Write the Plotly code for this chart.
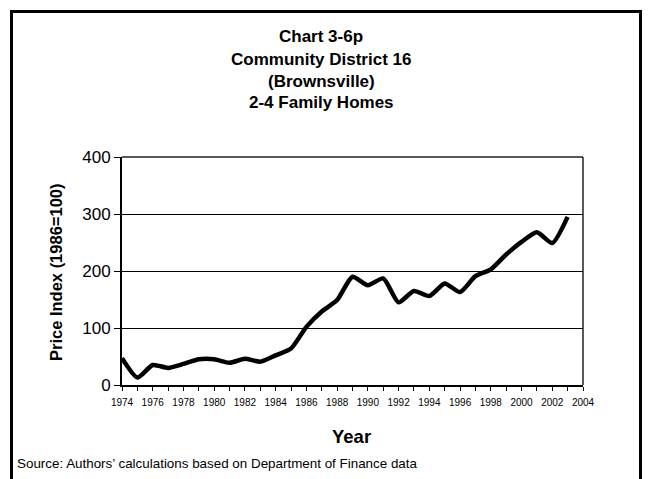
import plotly.graph_objects as go

years = list(range(1974, 2004))
price_index = [47, 13, 35, 30, 37, 45, 45, 39, 46, 41, 52, 64, 102, 129, 149, 190,
               175, 187, 145, 165, 156, 178, 163, 191, 203, 229, 251, 268, 249, 295]

title_lines = ["Chart 3-6p", "Community District 16", "(Brownsville)", "2-4 Family Homes"]
x_title = "Year"
y_title = "Price Index (1986=100)"
source_note = "Source: Authors\u2019 calculations based on Department of Finance data"

W, H = 649, 479
L, R, T, B = 122, 66, 157, 94
pw, ph = W - L - R, H - T - B

def px(x):
    return (x - L) / pw

def py(y):
    return (H - B - y) / ph

FONT = "Liberation Sans, Arial, sans-serif"

fig = go.Figure()
fig.add_trace(go.Scatter(
    x=years, y=price_index, mode="lines",
    line=dict(color="black", width=4.5, shape="spline", smoothing=0.6),
    hoverinfo="skip", showlegend=False,
))

fig.update_layout(
    width=W, height=H,
    margin=dict(l=L, r=R, t=T, b=B),
    paper_bgcolor="white", plot_bgcolor="white",
    font=dict(family=FONT, color="black"),
    showlegend=False,
)

fig.update_xaxes(
    range=[1974, 2004], tickmode="linear", tick0=1974, dtick=2,
    ticks="outside", ticklen=4, tickwidth=1, tickcolor="black",
    minor=dict(dtick=1, ticks="outside", ticklen=4, tickcolor="black", tickwidth=1),
    showline=True, linecolor="black", linewidth=2,
    showgrid=False, zeroline=False, ticklabelstandoff=3,
    tickfont=dict(family="Liberation Sans Narrow, " + FONT, size=10),
)
fig.update_yaxes(
    range=[0, 400], tickmode="linear", tick0=0, dtick=100,
    ticks="outside", ticklen=6, tickwidth=1, tickcolor="black",
    showline=True, linecolor="black", linewidth=2,
    showgrid=True, gridcolor="black", gridwidth=1,
    zeroline=False,
    tickfont=dict(family=FONT, size=17),
)

# plot frame top/right
fig.add_shape(type="line", xref="paper", yref="paper", x0=0, x1=1, y0=1, y1=1,
              line=dict(color="#222", width=1.5))
fig.add_shape(type="line", xref="paper", yref="paper", x0=1, x1=1, y0=0, y1=1,
              line=dict(color="#222", width=1.5))

# outer frame
fig.add_shape(type="rect", xref="paper", yref="paper",
              x0=px(11.5), x1=px(640.5), y0=py(495), y1=py(11.5),
              line=dict(color="black", width=3), fillcolor="rgba(0,0,0,0)", layer="above")

for i, t in enumerate(title_lines):
    fig.add_annotation(text="<b>%s</b>" % t, xref="paper", yref="paper",
                       x=px(321), y=py(37 + 22 * i), showarrow=False,
                       xanchor="center", yanchor="middle",
                       font=dict(family=FONT, size=17, color="black"))

fig.add_annotation(text="<b>%s</b>" % x_title, xref="paper", yref="paper",
                   x=px(351), y=py(436), showarrow=False,
                   xanchor="center", yanchor="middle",
                   font=dict(family=FONT, size=18.5, color="black"))
fig.add_annotation(text="<b>%s</b>" % y_title, xref="paper", yref="paper",
                   x=px(56), y=py(272), showarrow=False, textangle=-90,
                   xanchor="center", yanchor="middle",
                   font=dict(family=FONT, size=16.5, color="black"))
fig.add_annotation(text=source_note, xref="paper", yref="paper",
                   x=px(15), y=py(463), showarrow=False,
                   xanchor="left", yanchor="middle",
                   font=dict(family=FONT, size=13.4, color="black"))

fig.write_html("out.html", config={"displayModeBar": False},
               post_script="document.body.style.margin='0';document.body.style.overflow='hidden';")
